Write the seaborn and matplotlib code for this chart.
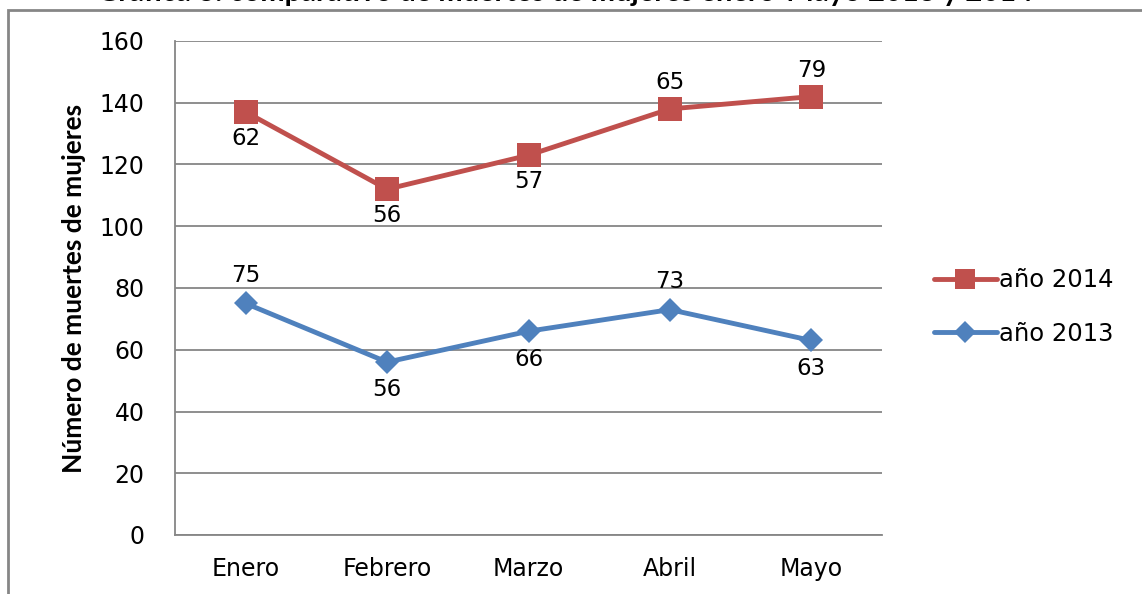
import numpy as np
import pandas as pd
import seaborn as sns
import matplotlib.pyplot as plt
from matplotlib.patches import Rectangle
from matplotlib.lines import Line2D

meses = ["Enero", "Febrero", "Marzo", "Abril", "Mayo"]
muertes_2013 = [75, 56, 66, 73, 63]
muertes_2014 = [62, 56, 57, 65, 79]
# label position: +1 above the point, -1 below
pos_2013 = [1, -1, -1, 1, -1]
pos_2014 = [-1, -1, -1, 1, 1]

rojo = "#C0504D"
azul = "#4F81BD"
gris = "#868686"

sns.set_theme(style="white")
plt.rcParams['font.family'] = ['DejaVu Sans']
plt.rcParams['text.color'] = 'black'
plt.rcParams['axes.labelcolor'] = 'black'

# stacked line chart: 2014 sits on top of 2013
apilado_2014 = np.array(muertes_2013) + np.array(muertes_2014)
df = pd.DataFrame({
    "x": list(range(len(meses))) * 2,
    "y": list(muertes_2013) + list(apilado_2014),
    "serie": ["año 2013"] * len(meses) + ["año 2014"] * len(meses),
})

fig = plt.figure(figsize=(11.42, 5.94), dpi=100)
ax = fig.add_axes([175 / 1142, 1 - 535 / 594, 707 / 1142, 494 / 594])

sns.lineplot(data=df[df.serie == "año 2013"], x="x", y="y", ax=ax, color=azul,
             lw=3.5, marker="D", markersize=12, markeredgewidth=0, legend=False)
sns.lineplot(data=df[df.serie == "año 2014"], x="x", y="y", ax=ax, color=rojo,
             lw=3.5, marker="s", markersize=17, markeredgewidth=0, legend=False)

for i in range(len(meses)):
    ax.annotate(str(muertes_2013[i]), (i, muertes_2013[i]),
                xytext=(0, 20 * pos_2013[i]), textcoords="offset points",
                ha="center", va="center", fontsize=16.5, color="black")
    ax.annotate(str(muertes_2014[i]), (i, apilado_2014[i]),
                xytext=(0, 19 * pos_2014[i]), textcoords="offset points",
                ha="center", va="center", fontsize=16.5, color="black")

ax.set_xlim(-0.5, len(meses) - 0.5)
ax.set_ylim(0, 160)
ax.set_yticks(range(0, 161, 20))
ax.set_xticks(range(len(meses)))
ax.set_xticklabels(meses)
ax.tick_params(axis="both", labelsize=17, length=0, colors="black")
ax.tick_params(axis="x", pad=16)
ax.tick_params(axis="y", pad=22)
ax.grid(axis="y", color=gris, lw=1.3)
ax.set_axisbelow(True)
for s in ["top", "right"]:
    ax.spines[s].set_visible(False)
for s in ["left", "bottom"]:
    ax.spines[s].set_color(gris)
    ax.spines[s].set_linewidth(1.3)
ax.set_xlabel("")
ax.set_ylabel("Número de muertes de mujeres", fontsize=19, fontweight="bold",
              family=["Lato", "DejaVu Sans"], color="black", labelpad=10)

handles = [
    Line2D([], [], color=rojo, lw=3.5, marker="s", markersize=15, markeredgewidth=0),
    Line2D([], [], color=azul, lw=3.5, marker="D", markersize=11, markeredgewidth=0),
]
leg = fig.legend(handles, ["año 2014", "año 2013"], loc="center left",
                 bbox_to_anchor=(912 / 1142, 1 - 307 / 594), frameon=False,
                 fontsize=17.5, handlelength=2.6, handletextpad=0.1, labelspacing=1.2)
for t in leg.get_texts():
    t.set_color("black")

# outer frame (only left and top edges visible in the crop)
fig.patches.append(Rectangle((8 / 1142, -0.1), 1.2, 1 - 10 / 594 + 0.1,
                             transform=fig.transFigure, fill=False,
                             edgecolor=gris, lw=2))

# title cut off at the top of the image
fig.text(565 / 1142, 1.012, "Gráfica 3: comparativo de muertes de mujeres enero-Mayo 2013 y 2014",
         ha="center", va="center", fontsize=21, fontweight="bold",
         family=["Lato", "DejaVu Sans"], color="black")

fig.savefig("out.png", dpi=100)
